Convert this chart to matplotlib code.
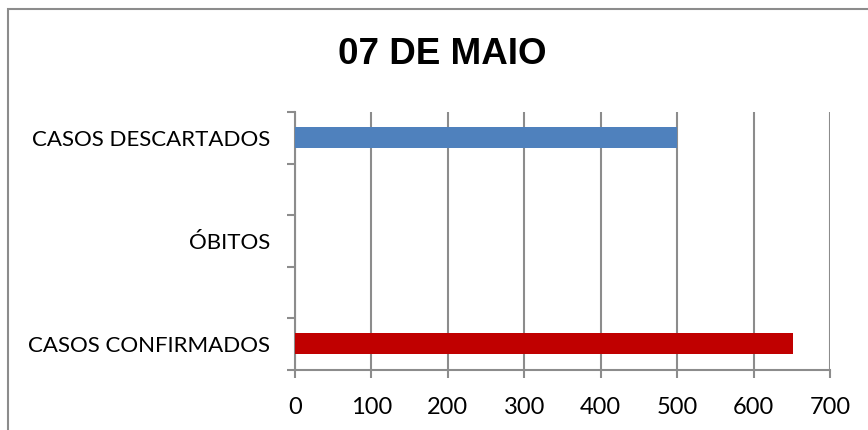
import matplotlib
matplotlib.use("Agg")
import matplotlib.pyplot as plt
from matplotlib.patches import Rectangle
import numpy as np

# Data (bottom to top); unlabeled slots are skipped labels on the axis
categories = ["CASOS CONFIRMADOS", "", "ÓBITOS", "", "CASOS DESCARTADOS"]
values = [651, 0, 0, 0, 500]
colors = ["#C00000", "#C00000", "#4F81BD", "#4F81BD", "#4F81BD"]
xticks = [0, 100, 200, 300, 400, 500, 600, 700]
title = "07 DE MAIO"

grey = "#8C8C8C"
label_font = ["Lato", "DejaVu Sans"]

fig = plt.figure(figsize=(8.68, 4.30), dpi=100)
ax = fig.add_axes([295 / 868, 1 - 369.5 / 430, 535 / 868, 257.5 / 430])

pos = np.arange(len(categories))
ax.barh(pos, values, height=0.41, color=colors, zorder=3)

ax.set_xlim(0, 700)
ax.set_ylim(-0.5, len(categories) - 0.5)
ax.set_xticks(xticks)
ax.set_xticklabels([str(x) for x in xticks], family=label_font, fontsize=17)
ax.grid(axis="x", color=grey, linewidth=1.5, zorder=0)

# category labels at centers, ticks at boundaries
ax.set_yticks(np.arange(-0.5, len(categories)), minor=False)
ax.set_yticklabels([])
ax.set_yticks(pos, minor=True)
ax.set_yticklabels(categories, minor=True, family=label_font, fontsize=16)
ax.tick_params(axis="y", which="minor", length=0, pad=18)
ax.tick_params(axis="y", which="major", length=6, width=1.5, color=grey)
ax.tick_params(axis="x", length=6, width=1.5, color=grey, pad=14)

for s in ["top", "right"]:
    ax.spines[s].set_visible(False)
for s in ["left", "bottom"]:
    ax.spines[s].set_color(grey)
    ax.spines[s].set_linewidth(1.5)

fig.text(442 / 868, 1 - 55 / 430, title, ha="center", va="center",
         family=["Liberation Sans Narrow", "Liberation Sans", "DejaVu Sans"],
         fontweight="bold", fontsize=26.5)

# chart frame
frame = Rectangle((7.5 / 868, -0.1), 1.2, 1.1 - 9.5 / 430, transform=fig.transFigure,
                  fill=False, edgecolor=grey, linewidth=1.5)
fig.patches.append(frame)

fig.savefig("out.png", dpi=100)
